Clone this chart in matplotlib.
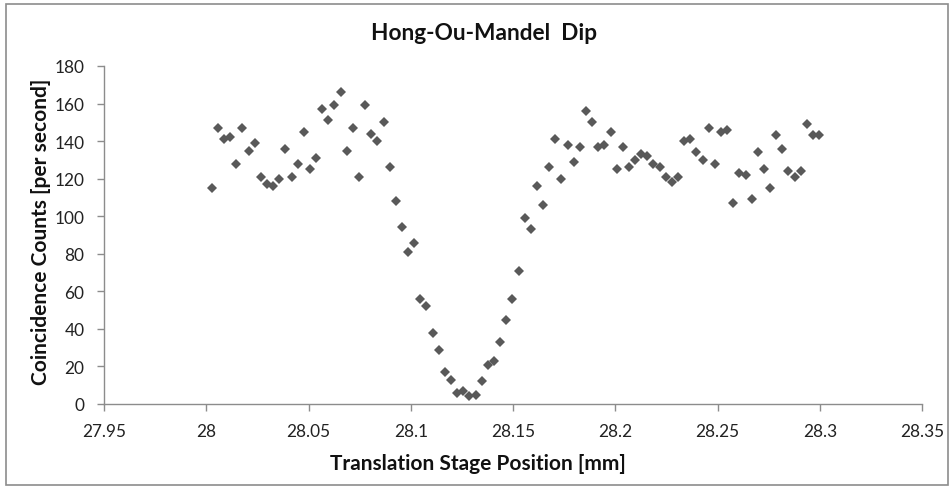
import matplotlib
matplotlib.use('Agg')
import matplotlib.pyplot as plt

# stage position [mm] and coincidence counts [per second]
position = [
    28.003, 28.006, 28.009, 28.012, 28.015, 28.018, 28.021, 28.024, 28.027, 28.030,
    28.033, 28.036, 28.039, 28.042, 28.045, 28.048, 28.051, 28.054, 28.057, 28.060,
    28.063, 28.066, 28.069, 28.072, 28.075, 28.078, 28.081, 28.084, 28.087, 28.090,
    28.093, 28.096, 28.099, 28.102, 28.105, 28.108, 28.111, 28.114, 28.117, 28.120,
    28.123, 28.126, 28.129, 28.132, 28.135, 28.138, 28.141, 28.144, 28.147, 28.150,
    28.153, 28.156, 28.159, 28.162, 28.165, 28.168, 28.171, 28.174, 28.177, 28.180,
    28.183, 28.186, 28.189, 28.192, 28.195, 28.198, 28.201, 28.204, 28.207, 28.210,
    28.213, 28.216, 28.219, 28.222, 28.225, 28.228, 28.231, 28.234, 28.237, 28.240,
    28.243, 28.246, 28.249, 28.252, 28.255, 28.258, 28.261, 28.264, 28.267, 28.270,
    28.273, 28.276, 28.279, 28.282, 28.285, 28.288, 28.291, 28.294, 28.297, 28.300,
]
counts = [
    115, 147, 141, 142, 128, 147, 135, 139, 121, 117,
    116, 120, 136, 121, 128, 145, 125, 131, 157, 151,
    159, 166, 135, 147, 121, 159, 144, 140, 150, 126,
    108, 94, 81, 86, 56, 52, 38, 29, 17, 13,
    6, 7, 4, 5, 12, 21, 23, 33, 45, 56,
    71, 99, 93, 116, 106, 126, 141, 120, 138, 129,
    137, 156, 150, 137, 138, 145, 125, 137, 126, 130,
    133, 132, 128, 126, 121, 118, 121, 140, 141, 134,
    130, 147, 128, 145, 146, 107, 123, 122, 109, 134,
    125, 115, 143, 136, 124, 121, 124, 149, 143, 143,
]
# small offset so the grid lines up with the drawn points
position = [p - 0.0003 for p in position]

xticks = [27.95, 28.0, 28.05, 28.1, 28.15, 28.2, 28.25, 28.3, 28.35]
xticklabels = ['27.95', '28', '28.05', '28.1', '28.15', '28.2', '28.25', '28.3', '28.35']
yticks = [0, 20, 40, 60, 80, 100, 120, 140, 160, 180]

plt.rcParams['font.family'] = ['Lato', 'DejaVu Sans']

W, H = 951, 489
fig = plt.figure(figsize=(W / 100, H / 100), dpi=100)
ax = fig.add_axes([104 / W, 1 - 405 / H, 818 / W, 338 / H])

# outer chart border like the spreadsheet chart area
fig.add_artist(plt.Rectangle((6 / W, 3 / H), 942 / W, 481 / H, transform=fig.transFigure,
                             fill=False, edgecolor='#8c8c8c', linewidth=1.2))

ax.plot(position, counts, linestyle='none', marker='D', markersize=5.3,
        color='#595959', markeredgewidth=0)

ax.set_xlim(27.95, 28.35)
ax.set_ylim(0, 180)
ax.set_xticks(xticks)
ax.set_xticklabels(xticklabels)
ax.set_yticks(yticks)

for side in ('top', 'right'):
    ax.spines[side].set_visible(False)
for side in ('left', 'bottom'):
    ax.spines[side].set_color('#8c8c8c')
    ax.spines[side].set_linewidth(1)
ax.tick_params(axis='both', colors='#8c8c8c', labelcolor='#222222',
               labelsize=12.4, length=5, width=1, direction='out')
ax.tick_params(axis='x', pad=9)
ax.tick_params(axis='y', pad=9)

fig.text(484 / W, 1 - 33 / H, 'Hong-Ou-Mandel  Dip', ha='center', va='center',
         fontsize=16.3, fontweight='bold', color='#111111')
fig.text(478 / W, 1 - 464 / H, 'Translation Stage Position [mm]', ha='center',
         va='center', fontsize=15, fontweight='bold', color='#111111')
fig.text(41 / W, 1 - 232 / H, 'Coincidence Counts [per second]', ha='center',
         va='center', rotation=90, fontsize=15, fontweight='bold', color='#111111')

fig.savefig('out.png', dpi=100)
